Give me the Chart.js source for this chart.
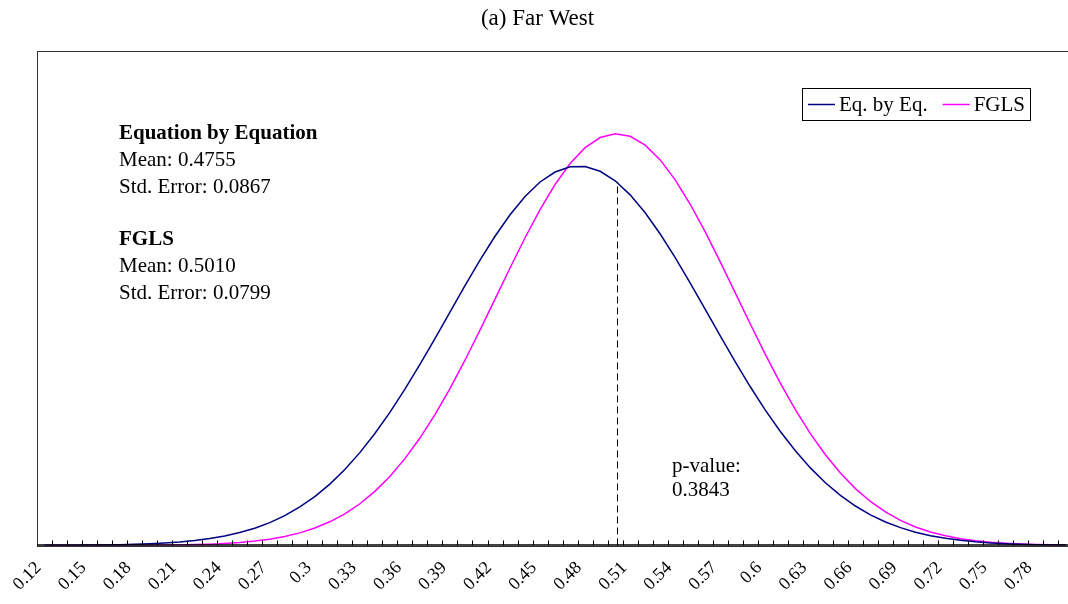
<!DOCTYPE html>
<html lang="en">
<head>
  <meta charset="UTF-8">
  <title>(a) Far West</title>
  <style>
    html, body { margin: 0; padding: 0; background: #fff; overflow: hidden; }
    /* the plot runs a bit past the right edge, as in the original */
    #wrap { width: 1068px; height: 604px; overflow: hidden; position: relative; }
    canvas { display: block; }
  </style>
</head>
<body>
  <div id="wrap">
    <canvas id="densityChart" width="1085" height="604"></canvas>
  </div>

  <script src="https://cdn.jsdelivr.net/npm/chart.js"></script>
  <script>
    // x categories: 0.12 .. 0.80
    var categories = ['0.12','0.13','0.14','0.15','0.16','0.17','0.18','0.19','0.2','0.21',
      '0.22','0.23','0.24','0.25','0.26','0.27','0.28','0.29','0.3','0.31',
      '0.32','0.33','0.34','0.35','0.36','0.37','0.38','0.39','0.4','0.41',
      '0.42','0.43','0.44','0.45','0.46','0.47','0.48','0.49','0.5','0.51',
      '0.52','0.53','0.54','0.55','0.56','0.57','0.58','0.59','0.6','0.61',
      '0.62','0.63','0.64','0.65','0.66','0.67','0.68','0.69','0.7','0.71',
      '0.72','0.73','0.74','0.75','0.76','0.77','0.78','0.79','0.8'];

    // Equation by Equation density
    var eqByEq = [0.001, 0.0016, 0.0026, 0.004, 0.0061, 0.0093, 0.0138, 0.0203, 0.0295, 0.0423,
      0.0599, 0.0835, 0.115, 0.1562, 0.2096, 0.2773, 0.3621, 0.4664, 0.5931, 0.7442,
      0.9208, 1.1255, 1.357, 1.614, 1.895, 2.195, 2.509, 2.829, 3.15, 3.459,
      3.749, 4.01, 4.231, 4.407, 4.528, 4.592, 4.595, 4.537, 4.422, 4.251,
      4.034, 3.776, 3.489, 3.181, 2.862, 2.54, 2.226, 1.924, 1.641, 1.381,
      1.148, 0.9406, 0.7606, 0.6071, 0.4781, 0.3716, 0.285, 0.2157, 0.1611, 0.1187,
      0.0863, 0.0619, 0.0438, 0.0306, 0.0211, 0.0144, 0.0096, 0.0064, 0.0042];

    // FGLS density
    var fgls = [0.0001, 0.0001, 0.0002, 0.0003, 0.0006, 0.0009, 0.0016, 0.0026, 0.0041, 0.0066,
      0.0103, 0.0159, 0.0241, 0.036, 0.0528, 0.0765, 0.1089, 0.1527, 0.211, 0.2867,
      0.3838, 0.5055, 0.6556, 0.837, 1.0525, 1.3023, 1.5862, 1.9025, 2.2459, 2.6103,
      2.9868, 3.3643, 3.7307, 4.0728, 4.3768, 4.631, 4.823, 4.946, 4.993, 4.961,
      4.854, 4.675, 4.432, 4.137, 3.802, 3.439, 3.063, 2.685, 2.317, 1.969,
      1.647, 1.356, 1.0995, 0.8773, 0.689, 0.5332, 0.406, 0.3042, 0.2245, 0.1631,
      0.1167, 0.0822, 0.0569, 0.0389, 0.0261, 0.0173, 0.0112, 0.0072, 0.0045];

    // dashed marker: at the FGLS mean, up to the Eq. by Eq. curve
    var markerX = 0.501;
    var markerTop = 4.41;
    var firstCat = 0.12, catStep = 0.01;

    var infoLines = [
      { text: 'Equation by Equation', bold: true },
      { text: 'Mean: 0.4755' },
      { text: 'Std. Error: 0.0867' },
      { text: '' },
      { text: 'FGLS', bold: true },
      { text: 'Mean: 0.5010' },
      { text: 'Std. Error: 0.0799' }
    ];
    var pValueLines = ['p-value:', '0.3843'];

    var serif = "'Liberation Serif', 'Times New Roman', serif";

    // frame, inside tick marks, dashed line, text boxes and legend
    var decorations = {
      id: 'decorations',
      afterDatasetsDraw: function (chart) {
        var ctx = chart.ctx;
        var a = chart.chartArea;
        var xs = chart.scales.x, ys = chart.scales.y;
        var half = (xs.getPixelForValue(1) - xs.getPixelForValue(0)) / 2;
        ctx.save();

        // frame
        ctx.strokeStyle = '#333';
        ctx.lineWidth = 1;
        ctx.strokeRect(Math.round(a.left) + 0.5, Math.round(a.top) + 0.5,
          Math.round(a.right - a.left), Math.round(a.bottom - a.top));

        // tick marks between categories, pointing up
        ctx.strokeStyle = '#000';
        ctx.beginPath();
        for (var i = 1; i < categories.length; i++) {
          var tx = Math.round(xs.getPixelForValue(i) - half) + 0.5;
          ctx.moveTo(tx, a.bottom);
          ctx.lineTo(tx, a.bottom - 5);
        }
        ctx.stroke();
        // axis line
        ctx.lineWidth = 1.5;
        ctx.beginPath();
        ctx.moveTo(a.left, Math.round(a.bottom));
        ctx.lineTo(a.right, Math.round(a.bottom));
        ctx.stroke();

        // dashed marker line
        var mx = Math.round(xs.getPixelForValue((markerX - firstCat) / catStep)) + 0.5;
        ctx.lineWidth = 1;
        ctx.setLineDash([7, 4]);
        ctx.beginPath();
        ctx.moveTo(mx, ys.getPixelForValue(0));
        ctx.lineTo(mx, ys.getPixelForValue(markerTop));
        ctx.stroke();
        ctx.setLineDash([]);

        // info text
        ctx.fillStyle = '#000';
        ctx.textAlign = 'left';
        ctx.textBaseline = 'middle';
        infoLines.forEach(function (l, k) {
          ctx.font = (l.bold ? 'bold ' : '') + '21px ' + serif;
          ctx.fillText(l.text, 119, 134 + k * 26.5);
        });
        ctx.font = '21px ' + serif;
        pValueLines.forEach(function (t, k) {
          ctx.fillText(t, 672, 466 + k * 24);
        });

        // legend box
        var lx = 802, ly = 88, lw = 228, lh = 32;
        ctx.fillStyle = '#fff';
        ctx.fillRect(lx, ly, lw, lh);
        ctx.strokeStyle = '#000';
        ctx.lineWidth = 1;
        ctx.strokeRect(lx + 0.5, ly + 0.5, lw, lh);
        var cx = lx + 6;
        ctx.font = '21px ' + serif;
        chart.data.datasets.forEach(function (ds) {
          ctx.strokeStyle = ds.borderColor;
          ctx.lineWidth = 1.5;
          ctx.beginPath();
          ctx.moveTo(cx, ly + lh / 2 + 0.5);
          ctx.lineTo(cx + 27, ly + lh / 2 + 0.5);
          ctx.stroke();
          ctx.fillStyle = '#000';
          ctx.fillText(ds.label, cx + 31, ly + lh / 2 + 1);
          cx += 31 + ctx.measureText(ds.label).width + 15;
        });
        ctx.restore();
      }
    };

    var ctx = document.getElementById('densityChart').getContext('2d');
    var densityChart = new Chart(ctx, {
      type: 'line',
      data: {
        labels: categories,
        datasets: [{
          label: 'Eq. by Eq.',
          data: eqByEq,
          borderColor: '#000080',
          borderWidth: 1.5,
          pointRadius: 0,
          tension: 0,
          fill: false
        },
        {
          label: 'FGLS',
          data: fgls,
          borderColor: '#FF00FF',
          borderWidth: 1.5,
          pointRadius: 0,
          tension: 0,
          fill: false
        }]
      },
      options: {
        responsive: false,
        animation: false,
        devicePixelRatio: 1,
        layout: { padding: { left: 0, right: 10, top: 0, bottom: 5 } },
        plugins: {
          legend: { display: false },
          tooltip: { enabled: false },
          title: {
            display: true,
            text: '(a) Far West',
            color: '#000',
            font: { family: serif, size: 23, weight: 'normal' },
            padding: { top: 5, bottom: 18 }
          }
        },
        scales: {
          x: {
            offset: true,
            grid: { display: false },
            border: { display: false },
            ticks: {
              autoSkip: false,
              minRotation: 45,
              maxRotation: 45,
              padding: 4,
              labelOffset: -6,
              color: '#000',
              font: { family: serif, size: 18 },
              callback: function (v, i) {
                return i % 3 === 0 ? categories[i] : '';
              }
            }
          },
          y: {
            display: true,
            min: 0,
            max: 6,
            grid: { display: false },
            border: { display: false },
            ticks: { display: false },
            afterFit: function (s) { s.width = 37; }
          }
        }
      },
      plugins: [decorations]
    });
  </script>
</body>
</html>
